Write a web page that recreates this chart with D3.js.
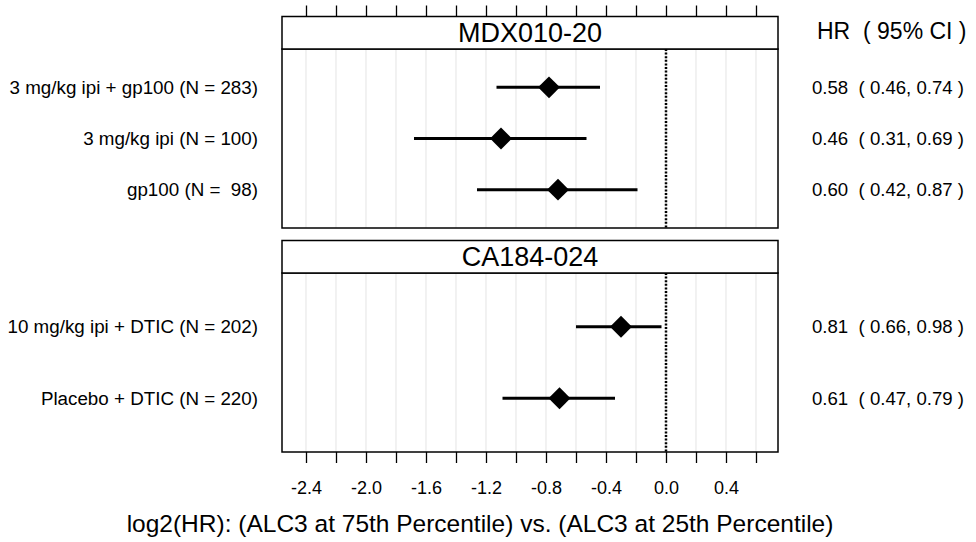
<!DOCTYPE html>
<html><head><meta charset="utf-8">
<script src="https://cdn.jsdelivr.net/npm/d3@7"></script>
<style>
html,body{margin:0;padding:0;background:#fff;}
text{font-family:"Liberation Sans",Arial,Helvetica,sans-serif;fill:#000;white-space:pre;}
</style></head>
<body>
<svg id="chart" width="976" height="542"></svg>
<script>
// ---- data ----
const studies = ["MDX010-20", "CA184-024"];
const studyOf = ["MDX010-20", "MDX010-20", "MDX010-20", "CA184-024", "CA184-024"];
const armLabels = [
  "3 mg/kg ipi + gp100 (N = 283)",
  "3 mg/kg ipi (N = 100)",
  "gp100 (N =  98)",
  "10 mg/kg ipi + DTIC (N = 202)",
  "Placebo + DTIC (N = 220)"
];
const logHR    = [-0.78, -1.10, -0.72, -0.30, -0.71];
const logLower = [-1.13, -1.68, -1.26, -0.60, -1.09];
const logUpper = [-0.44, -0.53, -0.19, -0.03, -0.34];
const hrText = [
  "0.58  ( 0.46, 0.74 )",
  "0.46  ( 0.31, 0.69 )",
  "0.60  ( 0.42, 0.87 )",
  "0.81  ( 0.66, 0.98 )",
  "0.61  ( 0.47, 0.79 )"
];
const tickValues = [-2.4,-2.2,-2.0,-1.8,-1.6,-1.4,-1.2,-1.0,-0.8,-0.6,-0.4,-0.2,0.0,0.2,0.4,0.6];
const tickLabels = [-2.4,-2.0,-1.6,-1.2,-0.8,-0.4,0.0,0.4];
const headerText = "HR  ( 95% CI )";
const xTitle = "log2(HR): (ALC3 at 75th Percentile) vs. (ALC3 at 25th Percentile)";

// ---- layout ----
const svg = d3.select("#chart");
const L = 282, R = 778;
const x = d3.scaleLinear().domain([-2.56, 0.7467]).range([L, R]);
const panels = [
  {study: studies[0], stripTop: 16.5, top: 49, bottom: 228},
  {study: studies[1], stripTop: 240.5, top: 273, bottom: 452}
];

panels.forEach((p, pi) => {
  const idx = d3.range(armLabels.length).filter(i => studyOf[i] === p.study);
  const n = idx.length;
  const y = d3.scaleLinear().domain([0.25, n + 0.75]).range([p.top, p.bottom]);
  const g = svg.append("g");
  // grid
  g.selectAll("line.grid").data(tickValues).join("line")
    .attr("x1", d => x(d)).attr("x2", d => x(d))
    .attr("y1", p.top).attr("y2", p.bottom)
    .attr("stroke", "#e4e4e4").attr("stroke-width", 1);
  // reference line at 0
  g.append("line").attr("x1", x(0)).attr("x2", x(0))
    .attr("y1", p.top).attr("y2", p.bottom)
    .attr("stroke", "#000").attr("stroke-width", 2.5).attr("stroke-dasharray", "2,1.6");
  // CI lines
  idx.forEach((i, k) => {
    const yy = y(k + 1);
    g.append("line").attr("x1", x(logLower[i])).attr("x2", x(logUpper[i]))
      .attr("y1", yy).attr("y2", yy).attr("stroke", "#000").attr("stroke-width", 3);
    g.append("path")
      .attr("d", d3.symbol().type(d3.symbolSquare).size(240)())
      .attr("transform", `translate(${x(logHR[i])},${yy}) rotate(45)`)
      .attr("fill", "#000");
    svg.append("text").attr("x", 258).attr("y", yy).attr("dy", "0.35em")
      .attr("text-anchor", "end").style("font-size", "18.8px").text(armLabels[i]);
    svg.append("text").attr("x", 812).attr("y", yy).attr("dy", "0.35em")
      .attr("text-anchor", "start").style("font-size", "18.6px").text(hrText[i]);
  });
  // panel border
  g.append("rect").attr("x", L).attr("y", p.top).attr("width", R - L).attr("height", p.bottom - p.top)
    .attr("fill", "none").attr("stroke", "#000").attr("stroke-width", 1.5);
  // strip
  g.append("rect").attr("x", L).attr("y", p.stripTop).attr("width", R - L).attr("height", p.top - p.stripTop)
    .attr("fill", "#fff").attr("stroke", "#000").attr("stroke-width", 1.5);
  g.append("text").attr("x", (L + R) / 2).attr("y", (p.stripTop + p.top) / 2).attr("dy", "0.36em")
    .attr("text-anchor", "middle").style("font-size", "27px").text(p.study);
});

// top ticks
svg.append("g").attr("transform", `translate(0,${panels[0].stripTop})`)
  .call(d3.axisTop(x).tickValues(tickValues).tickSize(11).tickFormat(""))
  .call(a => a.select(".domain").remove())
  .call(a => a.selectAll("line").attr("stroke", "#000").attr("stroke-width", 1.3));

// bottom ticks
const bottomAxis = svg.append("g").attr("transform", `translate(0,${panels[1].bottom})`)
  .call(d3.axisBottom(x).tickValues(tickValues).tickSize(11)
    .tickFormat(d => tickLabels.some(t => Math.abs(t - d) < 1e-9) ? d3.format(".1f")(d).replace("−", "-") : ""))
  .call(a => a.select(".domain").remove())
  .call(a => a.selectAll("line").attr("stroke", "#000").attr("stroke-width", 1.3));
bottomAxis.selectAll("text").attr("y", 36).attr("dy", "0.35em")
  .style("font-size", "18px").attr("fill", "#000")
  .style("font-family", '"Liberation Sans",Arial,Helvetica,sans-serif');

// header
svg.append("text").attr("x", 817).attr("y", 31).attr("dy", "0.35em")
  .style("font-size", "23px").text(headerText);

// x title
svg.append("text").attr("x", 480).attr("y", 523).attr("dy", "0.35em")
  .attr("text-anchor", "middle").style("font-size", "24.5px").text(xTitle);
</script>
</body></html>
